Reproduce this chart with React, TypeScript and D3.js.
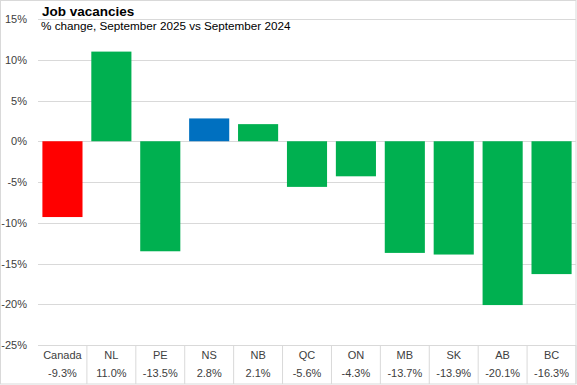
import React from 'react';
import * as d3 from 'd3';

const categories = ['Canada', 'NL', 'PE', 'NS', 'NB', 'QC', 'ON', 'MB', 'SK', 'AB', 'BC'];
const values = [-9.3, 11.0, -13.5, 2.8, 2.1, -5.6, -4.3, -13.7, -13.9, -20.1, -16.3];
const barColors = ['#FF0000', '#00B050', '#00B050', '#0070C0', '#00B050', '#00B050', '#00B050', '#00B050', '#00B050', '#00B050', '#00B050'];
const yTicks = [15, 10, 5, 0, -5, -10, -15, -20, -25];

const W = 577;
const H = 385;
const margin = { top: 19, right: 1, bottom: 40, left: 38 };
const grid = '#D9D9D9';
const font = '"Liberation Sans", Arial, sans-serif';

const App = () => {
  const x = d3
    .scaleBand()
    .domain(categories)
    .range([margin.left, W - margin.right])
    .paddingInner(0.18)
    .paddingOuter(0.09);

  const step = x.step();
  const y = d3.scaleLinear().domain([-25, 15]).range([H - margin.bottom, margin.top]);
  const fmt = (v: number) => `${v.toFixed(1)}%`;
  const tableTop = y(-25);

  return (
    <div style={{ position: 'absolute', left: 0, top: 0 }}>
      <svg width={W} height={H} style={{ display: 'block', background: '#fff' }}>
        <rect x={0.5} y={0.5} width={W - 1.5} height={H - 1.5} fill="#fff" stroke={grid} />

        {/* gridlines and y labels */}
        {yTicks.map(t => (
          <g key={t}>
            <line
              x1={margin.left}
              x2={W - margin.right}
              y1={Math.round(y(t)) + 0.5}
              y2={Math.round(y(t)) + 0.5}
              stroke={grid}
              strokeWidth={1}
            />
            <text x={27} y={y(t) + 4} textAnchor="end" fontFamily={font} fontSize={11} fill="#404040">
              {`${t}%`}
            </text>
          </g>
        ))}

        {/* bars */}
        {values.map((v, i) => (
          <rect
            key={categories[i]}
            x={x(categories[i])}
            width={x.bandwidth()}
            y={y(Math.max(0, v))}
            height={Math.abs(y(v) - y(0))}
            fill={barColors[i]}
          />
        ))}

        {/* data table */}
        {categories.map((c, i) => {
          const left = margin.left + i * step;
          const cx = left + step / 2;
          return (
            <g key={c}>
              <line x1={left + step} x2={left + step} y1={tableTop} y2={H - 1} stroke={grid} />
              <text x={cx} y={tableTop + 14} textAnchor="middle" fontFamily={font} fontSize={11} fill="#404040">
                {c}
              </text>
              <text x={cx} y={tableTop + 32} textAnchor="middle" fontFamily={font} fontSize={11} fill="#404040">
                {fmt(values[i])}
              </text>
            </g>
          );
        })}

        {/* titles */}
        <text x={42} y={16} fontFamily={font} fontSize={13.5} fontWeight="bold" fill="#000">
          Job vacancies
        </text>
        <text x={41} y={30} fontFamily={font} fontSize={11.7} fill="#000">
          % change, September 2025 vs September 2024
        </text>
      </svg>
    </div>
  );
};

export default App;
